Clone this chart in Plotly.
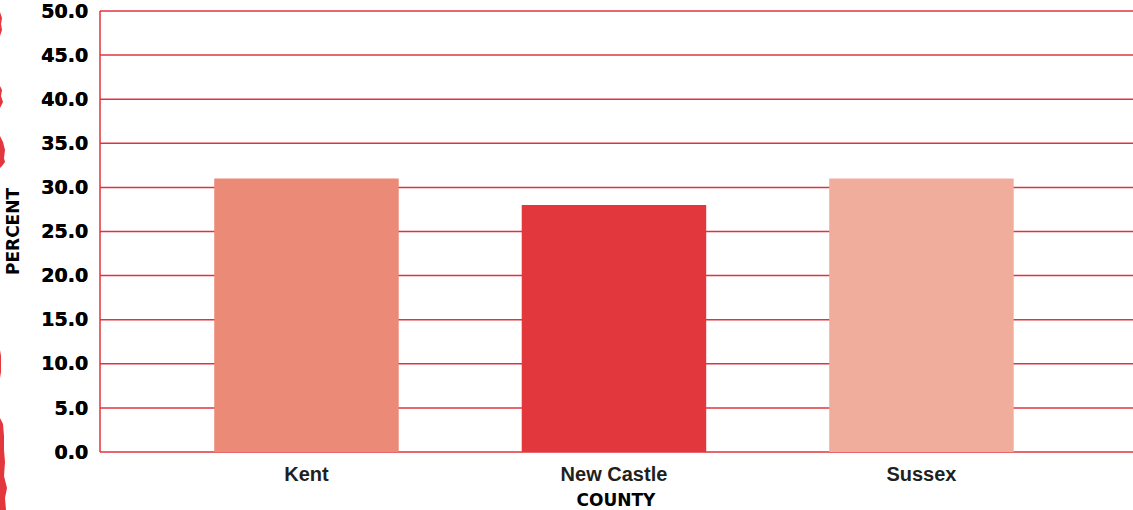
import plotly.graph_objects as go

# Share of residents by county (percent)
counties = ["Kent", "New Castle", "Sussex"]
percent = [31.0, 28.0, 31.0]
bar_colors = ["#EC8A78", "#E3373E", "#F1AD9C"]
y_ticks = [0, 5, 10, 15, 20, 25, 30, 35, 40, 45, 50]

W, H = 1133, 510
# One spare pixel on the left, top and bottom so edge rules are not clipped
L_MARGIN, R_MARGIN, T_MARGIN, B_MARGIN = 99, 0, 10, 57
GRID_RED = "#E0333C"
Y_PAD = 50 / 441          # one pixel in data units on the value axis
X_PAD = 1 / 307.5         # one pixel in data units on the category axis
X_LEFT = -0.6715          # category-axis value at the left rule

fig = go.Figure(
    go.Bar(
        x=counties,
        y=percent,
        marker=dict(color=bar_colors, line=dict(width=0)),
        hoverinfo="x+y",
    )
)

# Torn red paper edge along the left border (pixel-based decoration)
plot_w = W - L_MARGIN - R_MARGIN
plot_h = H - T_MARGIN - B_MARGIN


def px_to_paper(px, py):
    return (px - L_MARGIN) / plot_w, (H - B_MARGIN - py) / plot_h


edge_pieces = [
    [(0, 12), (2, 18), (1, 24), (2, 30), (0, 36)],
    [(0, 86), (2, 90), (1, 96), (3, 102), (0, 108)],
    [(0, 136), (3, 142), (5, 150), (4, 158), (5, 162), (2, 166), (0, 168)],
    [(0, 350), (1, 356), (1, 364), (1, 372), (0, 378)],
    [(0, 418), (3, 424), (4, 436), (4, 450), (5, 462), (4, 476), (7, 488),
     (5, 498), (6, 510), (0, 510)],
]
shapes = []
for piece in edge_pieces:
    pts = [px_to_paper(x, y) for x, y in piece]
    path = "M " + " L ".join(f"{a},{b}" for a, b in pts) + " Z"
    shapes.append(dict(type="path", xref="paper", yref="paper", path=path,
                       fillcolor="#E3373E", line=dict(width=0), layer="above"))

# Horizontal red rules at each y tick, behind the bars
for v in y_ticks:
    shapes.append(dict(type="line", xref="x", yref="y", x0=X_LEFT, x1=3, y0=v, y1=v,
                       line=dict(color=GRID_RED, width=1.5), layer="below"))
# Left axis rule
shapes.append(dict(type="line", xref="x", yref="y", x0=X_LEFT, x1=X_LEFT, y0=0, y1=50,
                   line=dict(color=GRID_RED, width=1.5), layer="below"))

fig.update_layout(
    template="none",
    width=W,
    height=H,
    margin=dict(l=L_MARGIN, r=R_MARGIN, t=T_MARGIN, b=B_MARGIN, autoexpand=False),
    paper_bgcolor="white",
    plot_bgcolor="white",
    bargap=0.4,
    showlegend=False,
    shapes=shapes,
    xaxis=dict(
        range=[X_LEFT - X_PAD, 2.688],
        showgrid=False,
        showline=False,
        zeroline=False,
        ticks="",
        ticklabelstandoff=7,
        tickfont=dict(family="Liberation Sans", size=20, color="#231F20", weight="bold"),
        title=dict(text="COUNTY", standoff=23,
                   font=dict(family="DejaVu Sans", size=17, color="#000000", weight="bold")),
        fixedrange=True,
    ),
    yaxis=dict(
        range=[-Y_PAD, 50 + Y_PAD],
        tickvals=y_ticks,
        tickformat=".1f",
        showgrid=False,
        zeroline=False,
        showline=False,
        ticks="",
        ticklabelstandoff=10,
        ticklabeloverflow="allow",
        tickfont=dict(family="DejaVu Sans", size=19, color="#000000", weight="bold",
                      shadow="0.5px 0 0 #000"),
        title=dict(text="PERCENT", standoff=17,
                   font=dict(family="DejaVu Sans", size=17, color="#000000", weight="bold")),
        fixedrange=True,
    ),
)

fig.write_html("out.html")
